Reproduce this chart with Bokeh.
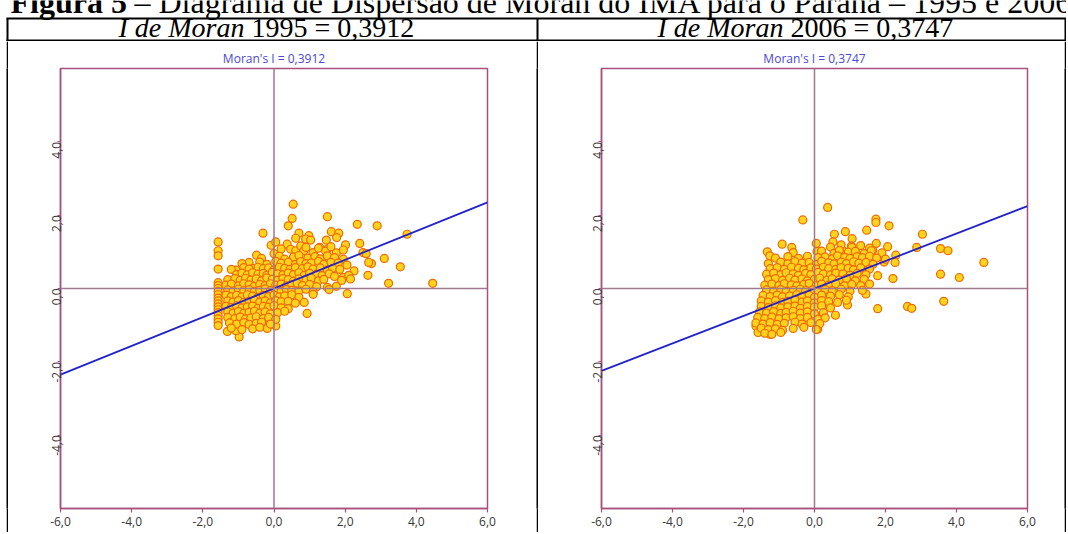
import math
from bokeh.plotting import figure
from bokeh.layouts import column, row, Spacer
from bokeh.models import Range1d, FixedTicker, Span
from bokeh.core.properties import value
from bokeh.embed import file_html
from bokeh.resources import INLINE

# ---------------- data ----------------
fig_label = "Figura 5"
fig_caption = "– Diagrama de Dispersão de Moran do IMA para o Paraná – 1995 e 2006"
years = ["1995", "2006"]
moran_i = [0.3912, 0.3747]
x_ticks = [-6, -4, -2, 0, 2, 4, 6]
y_ticks = [-4, -2, 0, 2, 4]

# 1995: standardized IMA (x) vs spatial lag (y)
out95_x = [0.54, 1.50, 0.51, 0.40, 2.34, 2.90, -0.31, 0.70, 0.98, 0.89, 1.03, 0.61,
           1.61, 1.82, 1.76, 1.47, 2.01, 2.41, -0.08, 0.05, 0.00, 0.37, 0.47, 0.61,
           0.75, 0.84, -0.49, -1.07, -0.70, -0.58, 2.50, 2.59, 3.74, 2.74, 2.66, 3.10,
           3.55, 2.64, 3.22, 4.46, 2.06, 0.93, -0.98, -0.19, 0.05, -1.31, -1.07, 1.29, 1.50]
out95_y = [2.30, 1.96, 1.91, 1.71, 1.75, 1.71, 1.51, 1.51, 1.44, 1.35, 1.32, 1.37,
           1.55, 1.51, 1.39, 1.32, 1.19, 1.23, 1.18, 1.27, 0.95, 1.21, 1.07, 1.03,
           1.16, 1.03, 0.91, 0.50, 0.71, 0.55, 0.98, 0.95, 1.48, 0.68, 0.71, 0.82,
           0.59, 0.36, 0.14, 0.14, -0.14, -0.68, -1.32, -1.09, -1.02, -1.17, -1.15, 1.12, 1.07]
stack95_x = [-1.57, -1.57, -1.57, -1.57, -1.57, -1.57, -1.57, -1.57, -1.57, -1.57,
             -1.57, -1.57, -1.57, -1.57, -1.57, -1.57, -1.57, -1.57, -1.57]
stack95_y = [1.27, 1.03, 0.89, 0.53, 0.16, 0.08, 0.00, -0.08, -0.17, -0.26,
             -0.34, -0.42, -0.50, -0.58, -0.66, -0.74, -0.83, -0.92, -1.01]
core95_x = [0.20, 0.90, 1.10, 1.25, 1.45, 1.60, 1.75, 1.95,
            -0.35, 0.15, 0.30, 0.55, 0.70, 0.95, 1.15, 1.30, 1.50, 1.70, 1.95,
            -0.90, -0.40, -0.20, 0.05, 0.20, 0.40, 0.60, 0.75, 0.90, 1.05, 1.25, 1.40, 1.60, 1.80, 2.05,
            -1.20, -0.85, -0.70, -0.45, -0.30, -0.15, 0.00, 0.15, 0.30, 0.45, 0.60, 0.80, 0.95, 1.10, 1.30, 1.50, 1.65, 1.85, 2.25,
            -1.05, -0.90, -0.75, -0.60, -0.45, -0.30, -0.20, -0.05, 0.10, 0.25, 0.40, 0.55, 0.70, 0.85, 1.00, 1.20, 1.35, 1.55, 1.70, 1.95, 2.10,
            -1.30, -1.10, -0.95, -0.80, -0.65, -0.50, -0.35, -0.20, -0.05, 0.10, 0.25, 0.40, 0.55, 0.70, 0.90, 1.05, 1.25, 1.40, 1.90, 2.15,
            -1.35, -1.20, -1.00, -0.85, -0.70, -0.55, -0.40, -0.25, -0.10, 0.05, 0.20, 0.35, 0.50, 0.65, 0.80, 1.00, 1.20, 1.50, 1.75,
            -1.30, -1.15, -1.00, -0.85, -0.70, -0.55, -0.40, -0.25, -0.10, 0.05, 0.20, 0.35, 0.50, 0.70, 0.90, 1.10, 1.55,
            -1.35, -1.20, -1.05, -0.90, -0.75, -0.60, -0.45, -0.30, -0.15, 0.00, 0.15, 0.30, 0.50, 0.70, 1.10,
            -1.30, -1.15, -1.00, -0.85, -0.70, -0.55, -0.40, -0.25, -0.10, 0.05, 0.20, 0.40, 0.60, 0.85,
            -1.35, -1.20, -1.05, -0.90, -0.75, -0.60, -0.45, -0.30, -0.15, 0.00, 0.20, 0.40,
            -1.30, -1.15, -1.00, -0.85, -0.70, -0.55, -0.40, -0.25, -0.10, 0.10, 0.30,
            -1.30, -1.10, -0.95, -0.80, -0.65, -0.50, -0.30, -0.15, 0.05,
            -1.25, -1.05, -0.85, -0.70, -0.50, -0.35, -0.10,
            -1.20, -0.90, -0.60, -0.40]
core95_y = [1.08, 1.12, 0.98, 1.10, 1.02, 1.14, 0.97, 1.05,
            0.82, 0.88, 0.80, 0.86, 0.90, 0.83, 0.87, 0.81, 0.89, 0.84, 0.80,
            0.68, 0.72, 0.66, 0.74, 0.69, 0.71, 0.65, 0.73, 0.68, 0.70, 0.74, 0.66, 0.71, 0.69, 0.64,
            0.52, 0.57, 0.53, 0.58, 0.54, 0.56, 0.51, 0.58, 0.55, 0.52, 0.57, 0.54, 0.59, 0.53, 0.56, 0.50, 0.55, 0.52, 0.48,
            0.38, 0.42, 0.37, 0.43, 0.39, 0.41, 0.36, 0.44, 0.40, 0.37, 0.42, 0.38, 0.43, 0.36, 0.41, 0.39, 0.35, 0.40, 0.33, 0.30, 0.36,
            0.24, 0.27, 0.22, 0.28, 0.23, 0.26, 0.21, 0.29, 0.25, 0.22, 0.27, 0.24, 0.20, 0.26, 0.23, 0.28, 0.21, 0.25, 0.22, 0.26,
            0.09, 0.12, 0.07, 0.13, 0.10, 0.06, 0.11, 0.08, 0.13, 0.09, 0.12, 0.07, 0.10, 0.14, 0.08, 0.11, 0.05, 0.03, 0.06,
            -0.04, -0.07, -0.02, -0.06, -0.03, -0.08, -0.05, -0.01, -0.06, -0.04, -0.08, -0.03, -0.05, -0.07, -0.02, -0.10, -0.03,
            -0.18, -0.22, -0.19, -0.23, -0.17, -0.21, -0.24, -0.19, -0.22, -0.18, -0.23, -0.20, -0.17, -0.24, -0.16,
            -0.34, -0.37, -0.33, -0.38, -0.35, -0.32, -0.37, -0.34, -0.39, -0.33, -0.36, -0.35, -0.40, -0.38,
            -0.49, -0.52, -0.47, -0.53, -0.50, -0.48, -0.54, -0.49, -0.51, -0.47, -0.53, -0.55,
            -0.64, -0.67, -0.63, -0.68, -0.65, -0.62, -0.67, -0.64, -0.69, -0.66, -0.62,
            -0.79, -0.82, -0.78, -0.83, -0.80, -0.77, -0.82, -0.79, -0.84,
            -0.94, -0.97, -0.93, -0.98, -0.95, -0.92, -0.97,
            -1.08, -1.12, -1.10, -1.06]

# 2006
out06_x = [0.37, -0.33, 1.73, 1.73, 2.10, 1.47, 0.87, 3.04, 0.56, -0.91, -0.64, -1.33,
           -1.26, 0.05, 0.07, 2.88, 3.55, 3.76, 2.06, 2.29, 2.27, 4.77, 3.55, 4.08,
           2.21, 1.78, 1.78, 2.62, 2.74, 3.64, 1.45, 0.59, 0.93, 0.09, -1.65, -1.59,
           -1.26, 1.74, 1.96, 1.54, 1.64, 0.52, 1.06, 1.04, 0.79]
out06_y = [2.21, 1.87, 1.89, 1.80, 1.71, 1.59, 1.55, 1.48, 1.48, 1.21, 1.12, 1.00,
           0.89, 1.23, 1.01, 1.12, 1.09, 1.03, 1.14, 0.91, 0.71, 0.71, 0.39, 0.30,
           0.27, 0.35, -0.55, -0.49, -0.54, -0.35, -0.15, -0.73, -0.45, -1.11, -1.02, -1.20,
           -1.25, 1.23, 0.72, 0.99, 1.04, 1.27, 1.36, 1.16, 1.04]
core06_x = [0.45, 0.75, 1.05, 1.30, 1.55,
            -0.60, 0.20, 0.55, 0.70, 0.95, 1.15, 1.40, 1.60, 1.90,
            -1.10, -0.75, -0.45, -0.20, 0.10, 0.30, 0.50, 0.65, 0.85, 1.00, 1.20, 1.35, 1.55, 1.75, 2.00,
            -1.30, -0.95, -0.75, -0.55, -0.35, -0.15, 0.05, 0.20, 0.40, 0.55, 0.75, 0.90, 1.10, 1.25, 1.45, 1.65,
            -1.25, -1.05, -0.85, -0.65, -0.45, -0.30, -0.10, 0.05, 0.25, 0.40, 0.60, 0.75, 0.95, 1.10, 1.30, 1.55,
            -1.35, -1.15, -0.95, -0.80, -0.60, -0.45, -0.25, -0.10, 0.10, 0.25, 0.45, 0.60, 0.80, 1.00, 1.20, 1.45,
            -1.30, -1.10, -0.90, -0.70, -0.55, -0.35, -0.20, 0.00, 0.15, 0.35, 0.50, 0.70, 0.90, 1.15, 1.40,
            -1.40, -1.20, -1.00, -0.85, -0.65, -0.50, -0.30, -0.15, 0.05, 0.20, 0.40, 0.60, 0.85, 1.05, 1.30, 1.55,
            -1.35, -1.15, -0.95, -0.80, -0.60, -0.40, -0.25, -0.05, 0.10, 0.30, 0.50, 0.75, 1.00, 1.35,
            -1.45, -1.25, -1.05, -0.90, -0.70, -0.50, -0.35, -0.15, 0.00, 0.20, 0.45, 0.70, 0.95,
            -1.50, -1.30, -1.10, -0.90, -0.75, -0.55, -0.35, -0.20, 0.00, 0.20, 0.40, 0.65, 0.90,
            -1.50, -1.30, -1.10, -0.95, -0.75, -0.55, -0.40, -0.20, 0.00, 0.20, 0.45,
            -1.55, -1.35, -1.15, -0.95, -0.80, -0.60, -0.40, -0.20, 0.00, 0.25,
            -1.60, -1.40, -1.20, -1.00, -0.80, -0.60, -0.40, -0.20, 0.10, 0.30,
            -1.65, -1.45, -1.25, -1.05, -0.85, -0.55, -0.35, -0.10, 0.15,
            -1.50, -1.30, -1.10, -0.90, -0.60, -0.30, 0.05,
            -1.40, -1.20, -0.95]
core06_y = [1.13, 1.19, 1.12, 1.17, 1.10,
            0.98, 1.02, 0.96, 1.04, 0.99, 1.01, 0.95, 1.03, 0.97,
            0.83, 0.87, 0.82, 0.88, 0.84, 0.86, 0.81, 0.89, 0.85, 0.82, 0.87, 0.84, 0.88, 0.83, 0.80,
            0.68, 0.72, 0.67, 0.73, 0.69, 0.71, 0.66, 0.74, 0.70, 0.67, 0.72, 0.68, 0.73, 0.69, 0.71, 0.66,
            0.54, 0.57, 0.52, 0.58, 0.55, 0.51, 0.56, 0.53, 0.58, 0.54, 0.52, 0.57, 0.55, 0.51, 0.56, 0.53,
            0.39, 0.42, 0.37, 0.43, 0.40, 0.36, 0.41, 0.38, 0.44, 0.39, 0.37, 0.42, 0.40, 0.36, 0.41, 0.38,
            0.24, 0.27, 0.22, 0.28, 0.23, 0.26, 0.21, 0.25, 0.28, 0.22, 0.26, 0.23, 0.27, 0.21, 0.25,
            0.09, 0.12, 0.08, 0.13, 0.10, 0.07, 0.11, 0.14, 0.08, 0.12, 0.09, 0.13, 0.07, 0.11, 0.08, 0.12,
            -0.04, -0.07, -0.03, -0.08, -0.05, -0.02, -0.06, -0.04, -0.08, -0.03, -0.06, -0.02, -0.07, -0.05,
            -0.19, -0.22, -0.18, -0.23, -0.20, -0.17, -0.22, -0.19, -0.24, -0.18, -0.21, -0.17, -0.23,
            -0.34, -0.37, -0.33, -0.38, -0.35, -0.32, -0.37, -0.34, -0.39, -0.33, -0.36, -0.38, -0.32,
            -0.49, -0.52, -0.47, -0.53, -0.50, -0.48, -0.54, -0.49, -0.51, -0.47, -0.53,
            -0.64, -0.67, -0.63, -0.68, -0.65, -0.62, -0.67, -0.64, -0.69, -0.66,
            -0.79, -0.82, -0.78, -0.83, -0.80, -0.77, -0.82, -0.79, -0.84, -0.80,
            -0.94, -0.97, -0.93, -0.98, -0.95, -0.92, -0.97, -0.93, -0.96,
            -1.08, -1.12, -1.10, -1.14, -1.09, -1.06, -1.12,
            -1.22, -1.25, -1.20]

# ---------------- styling ----------------
FRAME = "#a8507c"
CROSS = "#a07890"
LINE = "#2222cc"
PT_FILL = "#ffd21e"
PT_LINE = "#ee6a00"
SERIF = value("Liberation Serif")
PH = 491  # panel height


def fmt(v):
    return f"{v:.1f}".replace(".", ",")


def panel(xs, ys, mi, width, b_left, b_right):
    p = figure(width=width, height=PH, x_range=Range1d(-6, 6), y_range=Range1d(-6, 6),
               output_backend="svg", toolbar_location=None,
               min_border_left=b_left, min_border_right=b_right,
               min_border_top=27, min_border_bottom=24)
    p.title.text = "Moran's I = " + f"{mi:.4f}".replace(".", ",")
    p.title.align = "center"
    p.title.text_color = "#4848dd"
    p.title.text_font = "Open Sans"
    p.title.text_font_size = "12px"
    p.title.text_font_style = "normal"
    p.title.standoff = 4
    p.xgrid.visible = False
    p.ygrid.visible = False
    p.outline_line_color = FRAME
    p.outline_line_width = 1.5
    p.outline_line_alpha = 1.0
    p.background_fill_color = "white"
    p.border_fill_color = "white"

    p.xaxis.ticker = FixedTicker(ticks=x_ticks)
    p.xaxis.major_label_overrides = {t: fmt(t) for t in x_ticks}
    p.yaxis.ticker = FixedTicker(ticks=y_ticks)
    p.yaxis.major_label_overrides = {t: fmt(t) for t in y_ticks}
    p.yaxis.major_label_orientation = math.pi / 2
    for ax in (p.xaxis[0], p.yaxis[0]):
        ax.axis_line_color = FRAME
        ax.axis_line_width = 1.5
        ax.major_tick_line_color = FRAME
        ax.major_tick_line_width = 1.2
        ax.minor_tick_line_color = None
        ax.major_tick_in = 0
        ax.major_tick_out = 4
        ax.major_label_text_font = "Open Sans"
        ax.major_label_text_font_size = "12px"
        ax.major_label_text_color = "#383838"
    p.xaxis.major_label_standoff = 4
    p.yaxis.major_label_standoff = 1
    p.yaxis.major_tick_out = 3

    p.add_layout(Span(location=0, dimension="height", line_color=CROSS, line_width=1.5))
    p.add_layout(Span(location=0, dimension="width", line_color=CROSS, line_width=1.5))

    p.scatter(xs, ys, size=8, fill_color=PT_FILL, line_color=PT_LINE, line_width=1.2)
    lx = [p.x_range.start, p.x_range.end]
    p.line(lx, [mi * v for v in lx], line_color=LINE, line_width=1.8)
    return p


def vrule(h):
    v = figure(width=2, height=h, output_backend="svg", toolbar_location=None,
               x_axis_type=None, y_axis_type=None, title=None, min_border=0,
               x_range=Range1d(0, 1), y_range=Range1d(0, 1))
    v.grid.visible = False
    v.background_fill_color = "black"
    v.border_fill_color = "black"
    v.outline_line_color = None
    return v


W, HH = 1066, 41
hdr = figure(width=W, height=HH, output_backend="svg", toolbar_location=None,
             x_axis_type=None, y_axis_type=None, title=None, min_border=0,
             x_range=Range1d(0, W), y_range=Range1d(0, HH))
hdr.grid.visible = False
hdr.outline_line_color = None
hdr.background_fill_color = "white"
hdr.border_fill_color = "white"


def yp(page_y):
    # page pixel row -> header data coordinate
    return HH - page_y


# figure caption (its top is cut off in the source)
hdr.text(x=[10], y=[yp(1.5)], text=[fig_label], text_font=SERIF, text_font_size="32px",
         text_font_style="bold", text_baseline="alphabetic", text_color="black")
hdr.text(x=[134], y=[yp(1.5)], text=[fig_caption], text_font=SERIF, text_font_size="32px",
         text_font_style="normal", text_baseline="alphabetic", text_color="black")
# table rules
hdr.segment(x0=[6, 6], y0=[yp(18), yp(40)], x1=[W, W], y1=[yp(18), yp(40)],
            line_color="black", line_width=2)
hdr.segment(x0=[7, 537, 1065], y0=[yp(18)] * 3, x1=[7, 537, 1065], y1=[0, 0, 0],
            line_color="black", line_width=2)
# column headers
for start, yr, mi in zip([118, 657], years, moran_i):
    hdr.text(x=[start], y=[yp(27)], text=["I de Moran"], text_font=SERIF,
             text_font_size="28px", text_font_style="italic", text_baseline="alphabetic",
             text_color="black")
    hdr.text(x=[start + 133], y=[yp(27)], text=[f"{yr} = " + f"{mi:.4f}".replace(".", ",")],
             text_font=SERIF, text_font_size="28px", text_font_style="normal",
             text_baseline="alphabetic", text_color="black")

p95 = panel(out95_x + stack95_x + core95_x, out95_y + stack95_y + core95_y, moran_i[0], 528, 52, 49)
p06 = panel(out06_x + core06_x, out06_y + core06_y, moran_i[1], 526, 63, 37)

layout = column(hdr, row(Spacer(width=6, height=PH), vrule(PH), p95, vrule(PH), p06, vrule(PH)))
open("out.html", "w").write(file_html(layout, INLINE))
